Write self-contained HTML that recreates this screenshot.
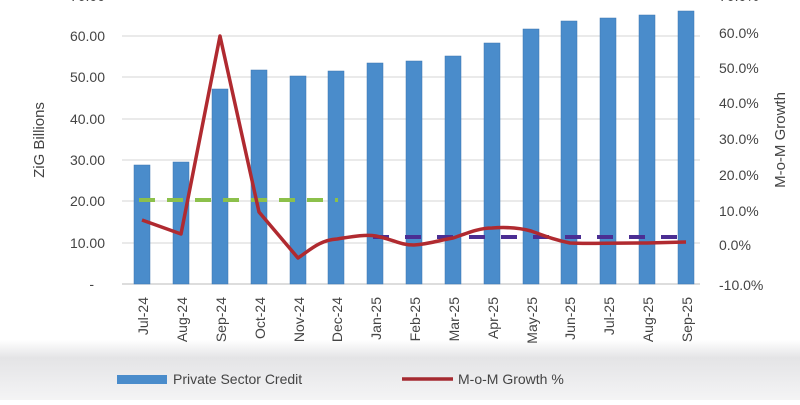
<!DOCTYPE html>
<html><head><style>
body{margin:0;width:800px;height:400px;overflow:hidden;background:#fff;font-family:"Liberation Sans",sans-serif}
</style></head><body>
<svg width="800" height="400" xmlns="http://www.w3.org/2000/svg" font-family="Liberation Sans, sans-serif">
<defs>
<linearGradient id="bg" x1="0" y1="0" x2="0" y2="1">
<stop offset="0" stop-color="#fff"/><stop offset="0.3" stop-color="#e4e4e6"/><stop offset="1" stop-color="#f4f4f5"/>
</linearGradient>
</defs>
<rect x="0" y="340" width="800" height="60" fill="url(#bg)"/>
<g stroke="#d6d6d6" stroke-width="1">
<line x1="122" y1="36" x2="700" y2="36"/>
<line x1="122" y1="77" x2="700" y2="77"/>
<line x1="122" y1="119" x2="700" y2="119"/>
<line x1="122" y1="160" x2="700" y2="160"/>
<line x1="122" y1="201" x2="700" y2="201"/>
<line x1="122" y1="243" x2="700" y2="243"/>
<line x1="122" y1="284" x2="700" y2="284" stroke="#bbb"/>
</g>
<g fill="#4a8ccb" stroke="#3a74b0" stroke-width="0.5">
<rect x="134" y="165" width="16" height="119"/>
<rect x="173" y="162" width="16" height="122"/>
<rect x="212" y="89" width="16" height="195"/>
<rect x="251" y="70" width="16" height="214"/>
<rect x="290" y="76" width="16" height="208"/>
<rect x="328" y="71" width="16" height="213"/>
<rect x="367" y="63" width="16" height="221"/>
<rect x="406" y="61" width="16" height="223"/>
<rect x="445" y="56" width="16" height="228"/>
<rect x="484" y="43" width="16" height="241"/>
<rect x="523" y="29" width="16" height="255"/>
<rect x="561" y="21" width="16" height="263"/>
<rect x="600" y="18" width="16" height="266"/>
<rect x="639" y="15" width="16" height="269"/>
<rect x="678" y="11" width="16" height="273"/>
</g>
<line x1="139" y1="200" x2="338" y2="200" stroke="#8cc04b" stroke-width="4" stroke-dasharray="16,12"/>
<line x1="373" y1="237" x2="692" y2="237" stroke="#4b2e93" stroke-width="4" stroke-dasharray="16,16"/>
<path d="M142 220 L181 234 L220 36 L259 212 L298 258 C310 250 320 240 337 239 C350 237 365 234 376 236 C395 240 400 245 414 245 C430 244 440 240 453 238 C470 232 480 228 492 228 C505 227 520 228 531 231 C545 236 555 240 570 243 C585 244 600 243 647 243 L686 242" fill="none" stroke="#b02a30" stroke-width="3.5" stroke-linejoin="round"/>
<g font-size="14" fill="#444" text-anchor="end">
<text x="105" y="41">60.00</text>
<text x="105" y="82">50.00</text>
<text x="105" y="124">40.00</text>
<text x="105" y="165">30.00</text>
<text x="105" y="206">20.00</text>
<text x="105" y="248">10.00</text>
<text x="94" y="289">-</text>
<text x="105" y="1">70.00</text>
</g>
<g font-size="14" fill="#444" text-anchor="start">
<text x="719" y="1">70.0%</text>
<text x="719" y="38">60.0%</text>
<text x="719" y="73">50.0%</text>
<text x="719" y="108">40.0%</text>
<text x="719" y="144">30.0%</text>
<text x="719" y="180">20.0%</text>
<text x="719" y="216">10.0%</text>
<text x="719" y="250">0.0%</text>
<text x="719" y="290">-10.0%</text>
</g>
<text transform="translate(44,140) rotate(-90)" font-size="15" fill="#444" text-anchor="middle">ZiG Billions</text>
<text transform="translate(785,140) rotate(-90)" font-size="15" fill="#444" text-anchor="middle">M-o-M Growth</text>
<g font-size="14" fill="#444" text-anchor="end">
<text transform="translate(148,297) rotate(-90)">Jul-24</text>
<text transform="translate(187,297) rotate(-90)">Aug-24</text>
<text transform="translate(226,297) rotate(-90)">Sep-24</text>
<text transform="translate(265,297) rotate(-90)">Oct-24</text>
<text transform="translate(304,297) rotate(-90)">Nov-24</text>
<text transform="translate(342,297) rotate(-90)">Dec-24</text>
<text transform="translate(381,297) rotate(-90)">Jan-25</text>
<text transform="translate(420,297) rotate(-90)">Feb-25</text>
<text transform="translate(459,297) rotate(-90)">Mar-25</text>
<text transform="translate(498,297) rotate(-90)">Apr-25</text>
<text transform="translate(537,297) rotate(-90)">May-25</text>
<text transform="translate(575,297) rotate(-90)">Jun-25</text>
<text transform="translate(614,297) rotate(-90)">Jul-25</text>
<text transform="translate(653,297) rotate(-90)">Aug-25</text>
<text transform="translate(692,297) rotate(-90)">Sep-25</text>
</g>
<rect x="117" y="375" width="50" height="9" fill="#4a8ccb"/>
<text x="173" y="384" font-size="14" fill="#444">Private Sector Credit</text>
<line x1="402" y1="379" x2="453" y2="379" stroke="#a52a30" stroke-width="3.5"/>
<text x="458" y="384" font-size="14" fill="#444">M-o-M Growth %</text>
</svg>
</body></html>
